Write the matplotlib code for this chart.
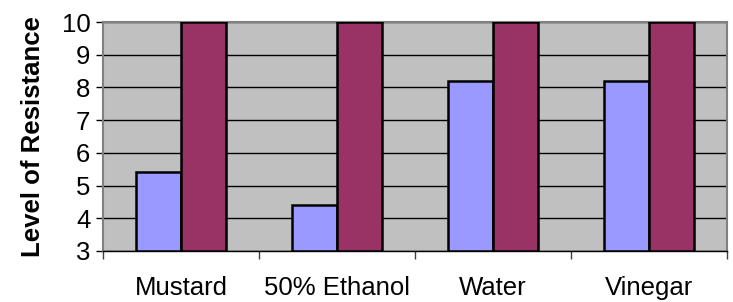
import numpy as np
import matplotlib.pyplot as plt

plt.rcParams['font.family'] = ['Liberation Sans', 'DejaVu Sans']

categories = ['Mustard', '50% Ethanol', 'Water', 'Vinegar']
series_a = [5.42, 4.42, 8.2, 8.2]
series_b = [10, 10, 10, 10]

fig = plt.figure(figsize=(7.33, 3.02), dpi=100)
ax = fig.add_axes([0.1405, 0.169, 0.8513, 0.758])
ax.set_facecolor('#C0C0C0')

x = np.arange(len(categories))
w = 0.29
ax.bar(x - w / 2, np.array(series_a) - 3, w, bottom=3, color='#9999FF',
       edgecolor='black', linewidth=1.8, zorder=3)
ax.bar(x + w / 2, np.array(series_b) - 3, w, bottom=3, color='#993366',
       edgecolor='black', linewidth=1.8, zorder=3)

ax.set_xlim(-0.5, len(categories) - 0.5)
ax.set_ylim(3, 10)
ax.set_yticks(range(3, 11))
ax.yaxis.grid(True, color='black', linewidth=1, zorder=1)
ax.set_axisbelow(True)

# category labels between boundary ticks
ax.set_xticks(np.arange(len(categories) + 1) - 0.5)
ax.set_xticklabels([])
ax.set_xticks(x, minor=True)
ax.set_xticklabels(categories, minor=True, fontsize=18.5)
ax.tick_params(axis='x', which='minor', length=0, pad=18)
ax.tick_params(axis='x', which='major', length=6, width=1, color='#404040')
ax.tick_params(axis='y', labelsize=18.5, length=5, width=1, pad=4)

for s in ['top', 'right']:
    ax.spines[s].set_color('#808080')
    ax.spines[s].set_linewidth(1.5)
ax.spines['left'].set_color('#808080')
ax.spines['left'].set_linewidth(1.5)
ax.spines['bottom'].set_color('black')
ax.spines['bottom'].set_linewidth(1)

ax.set_ylabel('Level of Resistance', fontsize=18.5, fontweight='bold', labelpad=12)

fig.savefig('out.png', dpi=100)
